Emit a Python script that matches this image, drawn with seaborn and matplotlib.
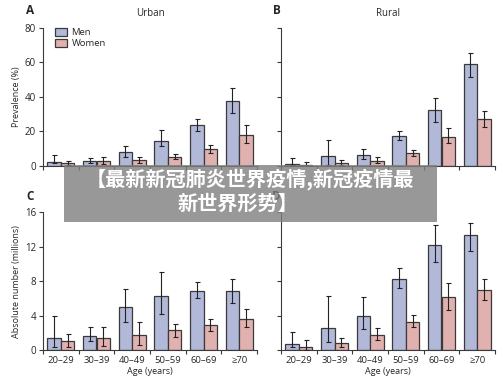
import numpy as np
import pandas as pd
import seaborn as sns
import matplotlib.pyplot as plt
from matplotlib.patches import Rectangle

# ---- data ----
ages = ['20–29', '30–39', '40–49', '50–59', '60–69', '≥70']

urban_men = [2.3, 2.9, 7.8, 14.4, 23.7, 37.9]
urban_men_lo = [1.4, 1.7, 5.2, 11.7, 20.4, 30.5]
urban_men_hi = [6.2, 4.7, 11.5, 20.6, 27.2, 45.4]
urban_women = [1.7, 2.7, 3.3, 5.4, 9.9, 18.0]
urban_women_lo = [0.6, 1.2, 1.6, 4.1, 7.6, 13.4]
urban_women_hi = [3.1, 4.9, 5.2, 7.0, 12.4, 23.5]

rural_men = [1.2, 5.6, 6.6, 17.5, 32.6, 59.2]
rural_men_lo = [0.3, 0.5, 4.1, 15.0, 25.6, 51.8]
rural_men_hi = [4.3, 14.8, 9.9, 20.2, 39.2, 65.8]
rural_women = [0.8, 1.9, 3.1, 7.6, 16.9, 27.4]
rural_women_lo = [0.1, 0.6, 1.4, 5.8, 13.0, 22.5]
rural_women_hi = [2.5, 3.7, 4.9, 9.1, 21.7, 31.8]

abs_urban_men = [1.4, 1.6, 5.0, 6.3, 6.8, 6.8]
abs_urban_men_lo = [0.4, 1.0, 3.3, 4.2, 6.0, 5.5]
abs_urban_men_hi = [4.0, 2.7, 7.1, 9.1, 7.9, 8.3]
abs_urban_women = [1.0, 1.4, 1.8, 2.3, 2.9, 3.6]
abs_urban_women_lo = [0.4, 0.5, 0.6, 1.5, 2.2, 2.7]
abs_urban_women_hi = [1.9, 2.7, 3.2, 3.0, 3.6, 4.8]

abs_rural_men = [0.7, 2.5, 4.0, 8.3, 12.2, 13.3]
abs_rural_men_lo = [0.4, 0.9, 2.4, 7.2, 10.2, 11.5]
abs_rural_men_hi = [2.1, 6.3, 6.1, 9.5, 14.5, 14.7]
abs_rural_women = [0.3, 0.8, 1.8, 3.3, 6.1, 7.0]
abs_rural_women_lo = [0.0, 0.4, 1.15, 2.7, 4.7, 5.8]
abs_rural_women_hi = [1.2, 1.45, 2.6, 4.05, 7.8, 8.2]

palette = {'Men': '#abb4de', 'Women': '#e8a9a6'}

panels = [
    ('A', 'Urban', urban_men, urban_men_lo, urban_men_hi,
     urban_women, urban_women_lo, urban_women_hi),
    ('B', 'Rural', rural_men, rural_men_lo, rural_men_hi,
     rural_women, rural_women_lo, rural_women_hi),
    ('C', '', abs_urban_men, abs_urban_men_lo, abs_urban_men_hi,
     abs_urban_women, abs_urban_women_lo, abs_urban_women_hi),
    ('D', '', abs_rural_men, abs_rural_men_lo, abs_rural_men_hi,
     abs_rural_women, abs_rural_women_lo, abs_rural_women_hi),
]

sns.set_style('ticks')
plt.rcParams['font.family'] = ['Open Sans', 'DejaVu Sans']

fig = plt.figure(figsize=(5, 3.84), dpi=100)
positions = [
    [0.086, 0.568, 0.428, 0.359],
    [0.562, 0.568, 0.428, 0.359],
    [0.086, 0.0885, 0.428, 0.359],
    [0.562, 0.0885, 0.428, 0.359],
]
edge = '#3a3a3a'

for k, (letter, title, m, mlo, mhi, w, wlo, whi) in enumerate(panels):
    ax = fig.add_axes(positions[k])
    df = pd.DataFrame({
        'age': ages * 2,
        'sex': ['Men'] * 6 + ['Women'] * 6,
        'value': m + w,
    })
    sns.barplot(data=df, x='age', y='value', hue='sex', order=ages,
                hue_order=['Men', 'Women'], palette=palette, errorbar=None,
                width=0.76, edgecolor=edge, linewidth=0.9, ax=ax)
    # custom CIs
    for cont, lo, hi in zip(ax.containers, [mlo, wlo], [mhi, whi]):
        xs = [b.get_x() + b.get_width() / 2 for b in cont]
        hs = [b.get_height() for b in cont]
        yerr = [np.array(hs) - np.array(lo), np.array(hi) - np.array(hs)]
        ax.errorbar(xs, hs, yerr=yerr, fmt='none', ecolor='#222222',
                    elinewidth=0.8, capsize=1.8, capthick=0.8, zorder=5)

    if k < 2:
        ax.set_ylim(0, 80)
        ax.set_yticks([0, 20, 40, 60, 80])
    else:
        ax.set_ylim(0, 16)
        ax.set_yticks([0, 4, 8, 12, 16])
    ax.set_xlim(-0.5, 5.5)
    ax.set_xticks(np.arange(-0.5, 6, 1))
    ax.set_xticklabels([])
    if k >= 2:
        ax.set_xticks(range(6), minor=True)
        ax.set_xticklabels(ages, minor=True)
        ax.set_xlabel('Age (years)', fontsize=6.5, labelpad=2)
    else:
        ax.set_xlabel('')
    ax.tick_params(axis='x', which='minor', length=0, labelsize=6.8, pad=4)
    ax.tick_params(axis='both', which='major', length=3, width=0.8,
                   color=edge, labelsize=7, pad=2)
    if k in (1, 3):
        ax.set_yticklabels([])
        ax.set_ylabel('')
    elif k == 0:
        ax.set_ylabel('Prevalence (%)', fontsize=6.5, labelpad=3)
    else:
        ax.set_ylabel('Absolute number (millions)', fontsize=6.5, labelpad=3)
    sns.despine(ax=ax)
    for s in ['left', 'bottom']:
        ax.spines[s].set_linewidth(0.8)
        ax.spines[s].set_color(edge)

    if k == 0:
        ax.legend(loc='upper left', bbox_to_anchor=(0.04, 1.03), frameon=False,
                  fontsize=6.8, handlelength=1.2, handleheight=0.9,
                  labelspacing=0.25, handletextpad=0.5, borderaxespad=0)
    else:
        ax.get_legend().remove()

    ax.text(-0.06 if k % 2 == 0 else -0.02, 1.13 if k < 2 else 1.11, letter,
            transform=ax.transAxes, fontsize=8.5, fontweight='bold',
            ha='center', va='center')
    if title:
        ax.set_title(title, fontsize=7, pad=9)

# overlay banner
fig.patches.append(Rectangle((64 / 500, 1 - 222 / 384), 373 / 500, 57 / 384,
                             transform=fig.transFigure, facecolor='#7f7f7f',
                             alpha=0.8, edgecolor='none', zorder=10))
banner_font = ['Noto Sans CJK SC', 'DejaVu Sans']
fig.text(0.5, 1 - 179 / 384, '【最新新冠肺炎世界疫情,新冠疫情最',
         ha='center', va='center', color='white', fontsize=14.5,
         fontweight='bold', family=banner_font, zorder=11)
fig.text(0.476, 1 - 203 / 384, '新世界形势】',
         ha='center', va='center', color='white', fontsize=14.5,
         fontweight='bold', family=banner_font, zorder=11)

fig.savefig('out.png', dpi=100)
